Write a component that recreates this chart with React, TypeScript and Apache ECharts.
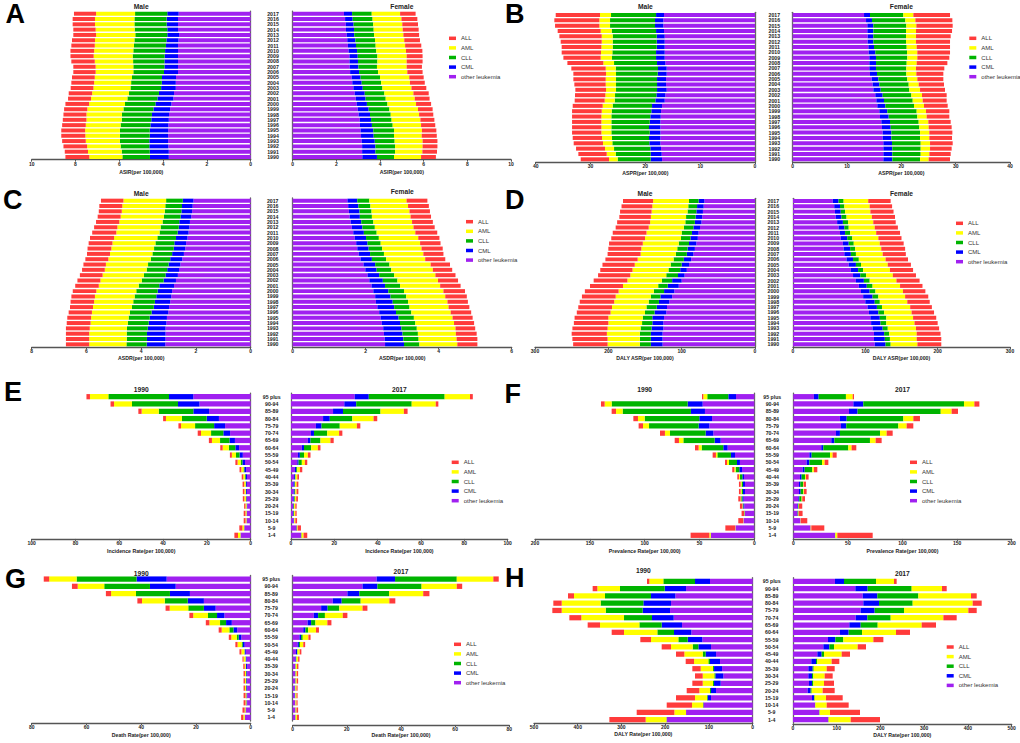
import React, { useEffect, useRef } from "react";
import * as echarts from "echarts";

// ---------------- categories ----------------
const YEARS = ["1990","1991","1992","1993","1994","1995","1996","1997","1998","1999","2000","2001","2002","2003","2004","2005","2006","2007","2008","2009","2010","2011","2012","2013","2014","2015","2016","2017"];
const AGES = ["1-4","5-9","10-14","15-19","20-24","25-29","30-34","35-39","40-44","45-49","50-54","55-59","60-64","65-69","70-74","75-79","80-84","85-89","90-94","95 plus"];
const LEGEND_NAMES = ["ALL", "AML", "CLL", "CML", "other leukemia"];

// Each row: cumulative stacked boundaries
// [other leukemia, +CML, +CLL, +AML, +ALL]; first row = bottom category.
const ASIR_MALE = [
[3.74,4.60,5.86,7.37,8.46],[3.74,4.61,5.89,7.43,8.49],[3.76,4.63,5.94,7.47,8.55],[3.77,4.63,5.97,7.53,8.61],
[3.77,4.61,5.97,7.55,8.65],[3.77,4.61,5.97,7.56,8.65],[3.76,4.58,5.94,7.53,8.61],[3.74,4.54,5.89,7.50,8.58],
[3.73,4.51,5.88,7.50,8.55],[3.68,4.44,5.81,7.46,8.52],[3.62,4.35,5.74,7.38,8.46],[3.53,4.26,5.63,7.29,8.34],
[3.50,4.19,5.56,7.24,8.31],[3.42,4.09,5.49,7.18,8.22],[3.42,4.06,5.46,7.15,8.19],[3.41,4.05,5.42,7.12,8.16],
[3.32,3.96,5.36,7.08,8.10],[3.32,3.94,5.36,7.08,8.10],[3.32,3.94,5.37,7.12,8.19],[3.32,3.93,5.39,7.17,8.23],
[3.32,3.91,5.36,7.15,8.23],[3.32,3.87,5.33,7.12,8.19],[3.30,3.85,5.31,7.11,8.16],[3.27,3.81,5.27,7.06,8.10],
[3.32,3.81,5.30,7.08,8.10],[3.32,3.84,5.31,7.11,8.13],[3.32,3.84,5.31,7.11,8.13],[3.29,3.81,5.28,7.06,8.07]];
const ASIR_FEMALE = [
[3.19,3.86,4.64,5.88,6.56],[3.18,3.79,4.69,5.94,6.61],[3.18,3.79,4.69,5.95,6.63],[3.16,3.76,4.67,5.95,6.63],
[3.13,3.71,4.64,5.91,6.60],[3.11,3.69,4.64,5.92,6.58],[3.08,3.63,4.58,5.88,6.53],[3.07,3.59,4.53,5.85,6.49],
[3.02,3.54,4.49,5.79,6.44],[2.98,3.48,4.43,5.74,6.41],[2.93,3.40,4.34,5.65,6.34],[2.89,3.34,4.26,5.59,6.27],
[2.84,3.30,4.20,5.53,6.23],[2.78,3.21,4.11,5.44,6.12],[2.73,3.16,4.05,5.37,6.05],[2.70,3.11,4.00,5.34,6.00],
[2.63,3.04,3.91,5.25,5.95],[2.61,3.01,3.86,5.22,5.92],[2.60,2.99,3.88,5.22,5.95],[2.60,2.98,3.88,5.22,5.95],
[2.56,2.95,3.83,5.19,5.94],[2.53,2.90,3.80,5.15,5.89],[2.50,2.87,3.77,5.11,5.83],[2.47,2.82,3.73,5.07,5.79],
[2.44,2.81,3.71,5.04,5.77],[2.43,2.79,3.69,5.02,5.74],[2.40,2.75,3.66,4.98,5.71],[2.35,2.72,3.62,4.92,5.63]];
const ASPR_MALE = [
[16.96,19.03,25.05,26.63,31.79],[17.02,19.03,25.41,27.05,32.22],[17.14,19.09,25.71,27.36,32.64],[17.26,19.27,26.02,27.72,33.07],
[17.26,19.33,26.08,27.90,33.25],[17.26,19.21,26.20,28.02,33.37],[17.26,19.33,26.20,28.02,33.37],[17.26,19.21,26.20,28.02,33.37],
[17.20,19.09,26.20,28.02,33.37],[17.14,18.91,26.14,27.96,33.37],[16.96,18.78,25.96,27.78,33.25],[16.47,18.18,25.59,27.42,32.89],
[16.35,17.99,25.53,27.29,32.83],[16.11,17.87,25.35,27.17,32.77],[16.23,17.87,25.35,27.23,32.95],[16.23,17.87,25.35,27.23,33.13],
[16.11,17.75,25.35,27.17,33.13],[16.11,17.69,25.41,27.23,33.50],[16.35,17.87,25.71,27.66,34.22],[16.47,18.05,26.08,28.15,34.95],
[16.47,18.05,26.02,28.09,35.26],[16.47,17.93,25.96,28.02,35.26],[16.47,17.93,25.96,27.96,35.44],[16.47,17.93,25.96,27.96,35.68],
[16.60,18.05,26.14,28.15,35.99],[16.72,18.24,26.44,28.39,36.47],[16.72,18.24,26.44,28.39,36.60],[16.60,18.05,26.26,28.27,36.35]];
const ASPR_FEMALE = [
[16.69,18.34,23.44,25.03,28.96],[16.69,18.34,23.56,25.15,29.08],[16.69,18.34,23.56,25.28,29.26],[16.69,18.28,23.56,25.28,29.45],
[16.56,18.16,23.44,25.15,29.33],[16.56,18.16,23.44,25.15,29.39],[16.44,18.04,23.31,25.03,29.26],[16.32,17.91,23.19,24.97,29.08],
[16.07,17.67,22.94,24.66,28.83],[15.95,17.42,22.82,24.54,28.83],[15.58,17.06,22.33,24.17,28.53],[15.40,16.81,22.09,23.93,28.34],
[15.21,16.56,21.84,23.80,28.34],[14.85,16.20,21.47,23.44,28.04],[14.72,15.95,21.35,23.19,27.85],[14.54,15.77,21.10,22.94,27.73],
[14.23,15.52,20.92,22.76,27.73],[14.11,15.34,20.92,22.70,27.91],[14.11,15.34,20.98,22.82,28.47],[14.11,15.34,21.10,22.94,28.83],
[13.99,15.21,21.04,22.94,28.96],[13.93,14.97,20.98,22.82,28.96],[13.80,14.85,20.86,22.70,28.96],[13.80,14.85,20.86,22.70,29.08],
[13.74,14.85,20.86,22.70,29.33],[13.74,14.85,20.92,22.76,29.45],[13.50,14.60,20.74,22.58,29.39],[13.13,14.23,20.37,22.21,28.96]];
const ASDR_MALE = [
[3.12,3.80,4.54,5.90,6.75],[3.11,3.79,4.53,5.90,6.75],[3.11,3.79,4.53,5.90,6.75],[3.11,3.76,4.52,5.88,6.75],
[3.08,3.73,4.49,5.85,6.72],[3.06,3.69,4.46,5.83,6.70],[3.01,3.62,4.41,5.80,6.65],[2.98,3.54,4.34,5.76,6.60],
[2.94,3.50,4.29,5.72,6.58],[2.90,3.45,4.24,5.69,6.55],[2.87,3.40,4.18,5.64,6.50],[2.80,3.34,4.09,5.55,6.41],
[2.73,3.18,3.98,5.49,6.33],[2.66,3.11,3.90,5.41,6.24],[2.62,3.05,3.80,5.33,6.16],[2.57,3.00,3.75,5.29,6.11],
[2.50,2.94,3.65,5.20,6.04],[2.44,2.87,3.59,5.14,5.98],[2.39,2.81,3.53,5.09,5.96],[2.36,2.79,3.48,5.05,5.92],
[2.31,2.73,3.41,4.99,5.87],[2.27,2.67,3.33,4.91,5.79],[2.24,2.63,3.29,4.87,5.72],[2.22,2.61,3.22,4.80,5.65],
[2.17,2.56,3.17,4.75,5.59],[2.14,2.53,3.14,4.71,5.55],[2.12,2.51,3.12,4.69,5.53],[2.09,2.48,3.09,4.65,5.47]];
const ASDR_FEMALE = [
[2.53,3.05,3.47,4.51,5.06],[2.52,3.03,3.45,4.49,5.06],[2.50,3.01,3.43,4.47,5.04],[2.48,2.98,3.40,4.46,5.00],
[2.44,2.94,3.36,4.42,4.97],[2.41,2.90,3.32,4.38,4.93],[2.37,2.83,3.25,4.33,4.89],[2.32,2.78,3.20,4.27,4.84],
[2.28,2.74,3.16,4.24,4.80],[2.26,2.68,3.11,4.18,4.77],[2.21,2.62,3.05,4.13,4.72],[2.16,2.53,2.94,4.04,4.60],
[2.10,2.47,2.87,3.98,4.53],[2.05,2.37,2.78,3.91,4.46],[1.99,2.30,2.70,3.84,4.37],[1.94,2.26,2.65,3.78,4.31],
[1.86,2.17,2.56,3.63,4.18],[1.81,2.12,2.50,3.58,4.13],[1.77,2.08,2.45,3.53,4.11],[1.74,2.05,2.41,3.49,4.05],
[1.70,2.01,2.36,3.44,4.02],[1.66,1.95,2.30,3.36,3.96],[1.62,1.91,2.25,3.31,3.89],[1.59,1.88,2.21,3.27,3.84],
[1.56,1.84,2.17,3.23,3.79],[1.54,1.83,2.16,3.20,3.76],[1.52,1.80,2.13,3.16,3.73],[1.50,1.77,2.10,3.12,3.69]];
const DALY_ASR_MALE = [
[126,142,157,201,248],[126,142,157,201,249],[126,142,157,202,250],[125,141,156,201,249],
[125,140,154,200,247],[124,140,153,200,246],[121,137,150,197,243],[120,134,148,195,241],
[117,131,145,192,239],[113,129,142,190,236],[110,124,138,186,232],[104,119,132,180,225],
[100,113,127,174,220],[96,105,121,170,214],[93,102,118,167,211],[90,100,115,164,208],
[87,97,111,160,204],[84,93,108,156,201],[82,92,106,155,200],[80,90,104,153,199],
[78,88,101,150,196],[77,86,100,148,194],[75,84,97,145,190],[73,82,95,143,188],
[72,81,94,142,185],[71,80,92,141,184],[70,79,91,140,182],[69,77,90,139,180]];
const DALY_ASR_FEMALE = [
[113,128,135,172,205],[112,127,134,171,205],[112,126,133,171,204],[110,124,131,170,202],
[108,121,129,168,200],[107,120,129,166,198],[105,118,126,164,195],[103,116,123,162,192],
[100,113,120,158,189],[97,110,118,155,187],[94,106,114,152,183],[91,102,110,148,179],
[87,98,106,143,175],[83,93,101,138,170],[80,90,97,134,166],[77,87,94,131,163],
[74,83,91,128,159],[71,80,87,124,156],[70,79,86,122,155],[69,77,84,120,153],
[66,75,82,118,150],[65,72,79,115,148],[63,71,77,113,145],[61,69,76,111,142],
[59,67,74,109,141],[58,66,72,107,139],[57,65,71,106,137],[55,63,70,104,135]];
const INCIDENCE_1990 = [
[4.6,4.65,4.7,5.8,7.45],[2.9,2.95,3.0,3.8,5.2],[1.8,1.9,1.95,2.35,3.2],[1.7,1.85,1.9,2.4,3.2],
[1.6,1.8,1.9,2.4,3.0],[1.7,2.0,2.1,2.9,3.6],[1.7,2.1,2.25,2.9,3.6],[1.7,2.1,2.3,3.0,3.7],
[1.7,2.3,2.6,3.4,4.1],[2.1,2.9,3.3,4.3,5.1],[2.6,3.8,4.6,6.0,7.0],[3.6,5.1,6.7,8.6,9.5],
[5.3,7.0,10.0,12.8,13.9],[7.2,9.7,14.0,17.7,19.1],[9.4,12.5,18.1,22.7,24.2],[11.7,16.7,25.4,31.8,33.0],
[14.5,20.1,31.4,38.7,40.0],[19.0,26.2,42.0,49.8,51.3],[23.4,33.2,54.2,62.4,64.0],[26.2,37.3,65.0,73.4,75.0]];
const INCIDENCE_2017 = [
[4.6,4.7,4.9,5.8,7.5],[2.6,2.6,2.8,3.1,4.6],[1.2,1.4,1.5,2.0,2.8],[0.9,1.2,1.4,2.0,2.6],
[0.9,1.2,1.4,2.0,2.6],[1.1,1.5,1.8,2.4,3.2],[1.2,1.7,2.0,2.6,3.4],[1.1,1.7,1.8,2.6,3.4],
[1.4,1.8,2.1,2.9,3.7],[1.8,2.4,2.9,4.1,5.2],[2.9,3.5,5.0,6.4,7.5],[3.2,4.1,6.0,7.8,9.0],
[5.0,6.0,9.3,12.4,13.6],[7.8,9.0,13.6,18.2,19.7],[9.2,10.6,16.7,22.2,23.7],[11.5,14.1,22.5,30.4,32.0],
[14.8,17.9,28.3,38.1,39.8],[19.4,24.0,41.3,52.1,53.8],[24.6,30.1,55.7,66.8,68.0],[29.4,35.9,70.9,82.6,83.9]];
const PREVALENCE_1990 = [
[39.5,39.5,39.8,41.0,58.1],[17.3,17.3,17.3,17.6,26.4],[10.0,10.0,10.0,10.3,14.6],[8.5,8.8,9.1,9.4,11.6],
[9.1,10.0,10.6,10.9,13.1],[9.7,10.9,11.9,12.5,14.6],[8.5,10.3,11.6,12.5,14.0],[8.5,10.3,11.6,12.5,14.0],
[9.4,10.9,13.1,14.0,15.5],[11.2,13.7,17.0,18.2,20.1],[13.1,15.8,23.1,24.9,26.7],[17.6,21.3,33.7,35.0,38.0],
[24.3,28.3,48.0,50.8,54.1],[30.7,36.2,64.7,68.7,72.6],[37.4,44.4,76.9,81.5,86.0],[41.0,50.8,96.0,101.5,105.5],
[38.6,50.2,100.0,106.1,110.3],[45.0,57.8,120.1,126.1,130.1],[47.1,60.8,130.1,136.5,139.8],[16.7,23.7,42.9,46.5,47.7]];
const PREVALENCE_2017 = [
[38.2,38.2,38.5,40.3,72.7],[15.9,15.9,15.9,16.5,28.4],[6.7,6.7,6.7,7.0,12.8],[3.7,4.0,4.6,4.9,8.5],
[3.7,4.3,4.9,5.2,8.2],[4.6,5.5,7.6,8.2,10.7],[5.2,6.7,9.2,9.8,12.2],[5.2,6.4,8.9,9.5,11.6],
[6.1,7.6,10.7,11.6,14.0],[8.5,10.4,17.4,18.9,22.0],[12.2,14.7,26.3,28.7,32.1],[14.7,16.8,33.6,36.0,39.7],
[25.6,27.5,50.4,53.4,57.7],[34.8,37.6,70.2,75.4,80.9],[39.1,42.7,79.4,85.5,91.0],[43.7,48.5,96.2,103.8,109.9],
[42.7,48.9,100.8,109.9,116.0],[51.0,58.9,135.0,145.0,150.8],[55.0,64.1,156.3,165.8,170.4],[18.9,23.2,48.2,54.4,55.6]];
const DEATH_1990 = [
[2.1,2.1,2.2,2.7,3.5],[1.7,1.8,1.9,2.2,3.0],[1.3,1.5,1.6,1.9,2.6],[1.3,1.5,1.6,1.9,2.6],
[1.3,1.6,1.7,2.1,2.6],[1.3,1.6,1.7,2.1,2.6],[1.3,1.6,1.7,2.1,2.6],[1.3,1.7,1.8,2.2,2.7],
[1.5,1.8,1.9,2.6,3.0],[1.8,2.2,2.3,3.4,4.1],[2.2,2.9,3.3,4.8,5.6],[3.4,4.4,5.1,7.1,8.0],
[4.9,6.3,7.8,10.6,11.7],[6.9,9.0,11.2,15.1,16.4],[9.6,12.3,15.6,21.0,22.4],[12.8,17.1,22.8,29.6,31.1],
[17.1,23.0,31.4,39.7,41.4],[22.2,29.5,41.9,51.0,52.9],[27.4,36.8,53.5,63.2,65.3],[30.7,41.7,63.6,73.6,75.6]];
const DEATH_2017 = [
[1.0,1.0,1.1,1.6,2.3],[1.0,1.0,1.1,1.4,2.0],[0.9,1.0,1.0,1.4,1.8],[0.7,0.9,1.0,1.4,1.8],
[0.7,0.9,1.0,1.4,1.8],[0.9,1.0,1.1,1.5,2.0],[0.9,1.0,1.1,1.5,2.0],[0.9,1.0,1.1,1.6,2.1],
[1.0,1.2,1.4,2.0,2.5],[1.2,1.6,1.8,2.6,3.2],[1.8,2.3,2.7,3.9,4.6],[2.5,3.1,3.7,5.8,6.6],
[3.9,4.7,5.7,8.6,9.7],[5.5,6.8,8.4,12.8,14.3],[7.8,9.4,11.9,18.5,20.2],[10.5,12.9,17.2,25.8,27.6],
[14.8,18.1,25.1,35.7,37.9],[20.2,24.6,35.6,48.2,50.5],[25.8,31.3,47.6,60.6,62.6],[31.0,37.8,60.6,74.1,76.1]];
const DALY_1990 = [
[196.6,196.6,197.4,244.7,327.7],[152.4,152.4,152.4,179.1,265.2],[112.8,112.8,113.6,138.7,196.6],[95.3,102.9,104.4,131.9,175.3],
[83.8,95.3,97.6,122.0,150.9],[73.2,88.4,90.7,114.3,138.0],[67.1,85.4,87.7,114.3,131.9],[70.1,88.4,90.7,118.9,138.0],
[74.7,97.6,101.4,134.1,153.2],[83.8,107.5,114.3,156.3,175.3],[95.3,124.2,137.2,186.7,208.1],[115.1,148.6,170.0,232.5,256.9],
[140.2,179.9,218.0,294.2,322.4],[161.6,208.1,259.1,349.1,377.3],[180.6,230.2,294.2,391.8,419.2],[189.0,251.5,336.1,436.7,458.1],
[186.7,250.0,347.6,436.7,455.8],[176.8,232.5,337.7,408.5,422.3],[152.4,201.2,303.4,355.2,365.9],[97.6,131.9,204.3,236.3,241.6]];
const DALY_2017 = [
[80.8,80.8,81.6,131.9,198.9],[60.2,60.2,61.0,84.6,153.2],[50.3,50.3,51.1,77.0,127.3],[43.4,48.0,49.5,75.5,113.6],
[33.5,40.4,42.7,67.8,95.3],[36.6,43.4,46.5,70.9,93.8],[35.1,43.4,46.5,72.4,90.7],[35.1,45.0,47.3,77.0,95.3],
[41.9,52.6,55.6,88.4,105.9],[55.6,65.5,70.9,111.3,130.3],[69.4,83.1,93.8,147.9,166.9],[80.0,96.8,115.1,183.7,206.6],
[107.5,127.3,157.8,235.5,267.5],[128.8,154.7,193.6,294.2,327.0],[143.3,170.0,223.3,343.8,374.2],[154.7,186.7,253.8,400.9,420.0],
[160.8,196.6,273.6,410.8,431.4],[159.3,192.8,286.6,407.0,420.0],[142.5,170.7,271.3,340.7,351.4],[96.0,116.6,189.8,230.9,237.0]];

// ---------------- panels ----------------
const PANELS = [
  { letter: "A", rows: [ASIR_MALE, ASIR_FEMALE], cats: YEARS, titles: ["Male", "Female"], axisName: "ASIR(per 100,000)", max: [10, 10], interval: 2 },
  { letter: "B", rows: [ASPR_MALE, ASPR_FEMALE], cats: YEARS, titles: ["Male", "Female"], axisName: "ASPR(per 100,000)", max: [40, 40], interval: 10 },
  { letter: "C", rows: [ASDR_MALE, ASDR_FEMALE], cats: YEARS, titles: ["Male", "Female"], axisName: "ASDR(per 100,000)", max: [8, 6], interval: 2 },
  { letter: "D", rows: [DALY_ASR_MALE, DALY_ASR_FEMALE], cats: YEARS, titles: ["Male", "Female"], axisName: "DALY ASR(per 100,000)", max: [300, 300], interval: 100 },
  { letter: "E", rows: [INCIDENCE_1990, INCIDENCE_2017], cats: AGES, titles: ["1990", "2017"], axisName: "Incidence Rate(per 100,000)", max: [100, 100], interval: 20 },
  { letter: "F", rows: [PREVALENCE_1990, PREVALENCE_2017], cats: AGES, titles: ["1990", "2017"], axisName: "Prevalence Rate(per 100,000)", max: [200, 200], interval: 50 },
  { letter: "G", rows: [DEATH_1990, DEATH_2017], cats: AGES, titles: ["1990", "2017"], axisName: "Death Rate(per 100,000)", max: [80, 80], interval: 20 },
  { letter: "H", rows: [DALY_1990, DALY_2017], cats: AGES, titles: ["1990", "2017"], axisName: "DALY Rate(per 100,000)", max: [500, 500], interval: 100 },
];

// layout (pixels)
const LAYOUT = [
  { lx: 5.5, ly: 13.7, top: 11.05, h: 148.6, m: [31.7, 219], f: [292.7, 218.3], leg: [449, 34.8], off: [0, 0], gap: [9.5, 9.5], lblM: 19.7, ty: [6, 6], gapPct: "25%" },
  { lx: 505, ly: 13.7, top: 12.3, h: 149.7, m: [535.7, 219.3], f: [792.7, 217.3], leg: [969.3, 34.8], off: [0, 0], gap: [8.3, 8.3], lblM: 18.4, ty: [6, 6], gapPct: "25%" },
  { lx: 3, ly: 200, top: 198.0, h: 149, m: [31.7, 219], f: [292.7, 219], leg: [466, 218.2], off: [0, 0], gap: [8.6, 8.6], lblM: 20, ty: [193.3, 191], gapPct: "25%" },
  { lx: 505, ly: 199.7, top: 198.35, h: 148.6, m: [535, 220], f: [793, 217], leg: [956, 219.8], off: [0, 0], gap: [8.6, 8.6], lblM: 19.7, ty: [193.3, 193.3], gapPct: "25%" },
  { lx: 4, ly: 392.3, top: 393.05, h: 145.9, m: [31.7, 219], f: [291, 216.7], leg: [451.7, 458.8], off: [0, 0], gap: [9.9, 9.9], lblM: 19.3, ty: [389, 389], gapPct: "28%" },
  { lx: 504.5, ly: 393.8, top: 393.05, h: 145.9, m: [535, 219.3], f: [793.3, 218.4], leg: [910, 458.8], off: [0, 0], gap: [9.9, 9.9], lblM: 21, ty: [389, 389], gapPct: "28%" },
  { lx: 5, ly: 578.5, top: 575.4, h: 145.6, m: [31.7, 219], f: [292.7, 216.6], leg: [454, 640.8], off: [2, 4], gap: [9.8, 5.4], lblM: 21.5, ty: [573, 571.3], gapPct: "28%" },
  { lx: 505, ly: 578, top: 577.7, h: 145.6, m: [534, 218.7], f: [793, 218.7], leg: [946.7, 643.5], off: [0, 1], gap: [8.5, 8.5], lblM: 21.3, ty: [570.3, 573.7], gapPct: "28%" },
];

const STACK_NAMES = ["other leukemia", "CML", "CLL", "AML", "ALL"];
const COLORS: Record<string, string> = {
  ALL: "#FF3B3B",
  AML: "#FFFF00",
  CLL: "#00B400",
  CML: "#0000FF",
  "other leukemia": "#A020F0",
};
const FONT = "'Liberation Sans', Arial, Helvetica, sans-serif";

function buildOption() {
  const option: any = {
    animation: false,
    backgroundColor: "#ffffff",
    grid: [],
    xAxis: [],
    yAxis: [],
    series: [],
    legend: [],
    graphic: { elements: [] as any[] },
  };
  PANELS.forEach((p, pi) => {
    const L = LAYOUT[pi];
    option.graphic.elements.push({
      type: "text",
      x: L.lx,
      y: L.ly,
      silent: true,
      style: { text: p.letter, fill: "#000", fontSize: 27, fontWeight: "bold", fontFamily: FONT, align: "left", verticalAlign: "middle" },
    });
    option.legend.push({
      orient: "vertical",
      left: L.leg[0],
      top: L.leg[1],
      padding: 0,
      itemWidth: 7,
      itemHeight: 3.5,
      itemGap: 2.6,
      icon: "rect",
      selectedMode: false,
      data: LEGEND_NAMES,
      textStyle: { fontSize: 6, color: "#333", fontFamily: FONT, lineHeight: 7 },
    });
    [0, 1].forEach((side) => {
      const gi = pi * 2 + side;
      const isLeft = side === 0;
      const [gl, gw] = isLeft ? L.m : L.f;
      option.grid.push({ left: gl, top: L.top, width: gw, height: L.h });
      option.graphic.elements.push({
        type: "text",
        x: gl + gw / 2,
        y: L.ty[side],
        silent: true,
        style: { text: p.titles[side], fill: "#222", fontSize: 6.7, fontWeight: "bold", fontFamily: FONT, align: "center", verticalAlign: "middle" },
      });
      option.xAxis.push({
        type: "value",
        gridIndex: gi,
        min: 0,
        max: p.max[side],
        interval: p.interval,
        inverse: isLeft,
        offset: L.off[side],
        name: p.axisName,
        nameLocation: "middle",
        nameGap: L.gap[side],
        nameTextStyle: { fontSize: 5.2, fontWeight: "bold", color: "#222", fontFamily: FONT },
        axisLine: { show: true, onZero: false, lineStyle: { color: "#555", width: 1.3 } },
        axisTick: { show: true, length: 2, lineStyle: { color: "#555", width: 1 } },
        axisLabel: { fontSize: 5, fontWeight: "bold", color: "#222", margin: 1.5, fontFamily: FONT },
        splitLine: { show: false },
      });
      option.yAxis.push({
        type: "category",
        gridIndex: gi,
        data: p.cats,
        position: isLeft ? "right" : "left",
        axisLine: { show: true, onZero: false, lineStyle: { color: "#666", width: 1.3 } },
        axisTick: { show: false },
        axisLabel: isLeft
          ? { show: false }
          : { show: true, interval: 0, fontSize: 5.2, fontWeight: "bold", color: "#222", align: "center", margin: L.lblM, fontFamily: FONT },
        splitLine: { show: false },
      });
      const rows = p.rows[side];
      STACK_NAMES.forEach((name, k) => {
        option.series.push({
          type: "bar",
          name,
          stack: "s" + gi,
          xAxisIndex: gi,
          yAxisIndex: gi,
          barCategoryGap: L.gapPct,
          silent: true,
          itemStyle: { color: COLORS[name] },
          data: rows.map((r) => Math.round((k === 0 ? r[0] : r[k] - r[k - 1]) * 1000) / 1000),
        });
      });
    });
  });
  return option;
}

export default function App() {
  const ref = useRef<HTMLDivElement>(null);
  useEffect(() => {
    if (!ref.current) return;
    const chart = echarts.init(ref.current, undefined, { renderer: "svg" });
    chart.setOption(buildOption());
    return () => chart.dispose();
  }, []);
  return (
    <div
      ref={ref}
      style={{ position: "absolute", left: 0, top: 0, width: 1020, height: 743, background: "#fff" }}
    />
  );
}
